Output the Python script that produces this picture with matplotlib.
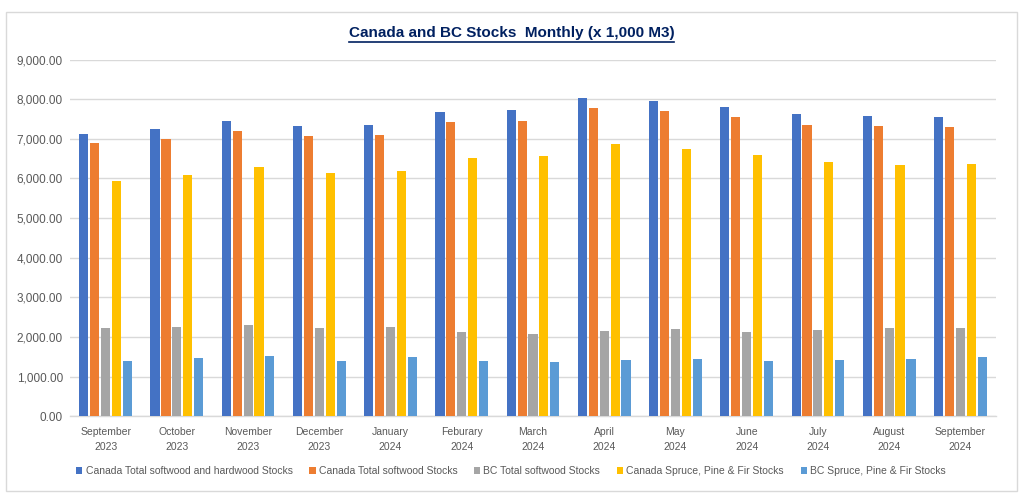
import matplotlib
matplotlib.use('Agg')
import matplotlib.pyplot as plt
from matplotlib.patches import Rectangle
from matplotlib.lines import Line2D
from matplotlib.ticker import FuncFormatter
import numpy as np

months = ['September\n2023', 'October\n2023', 'November\n2023', 'December\n2023',
          'January\n2024', 'Feburary\n2024', 'March\n2024', 'April\n2024',
          'May\n2024', 'June\n2024', 'July\n2024', 'August\n2024', 'September\n2024']

canada_total = [7126, 7252, 7454, 7328, 7353, 7682, 7714, 8035, 7942, 7798, 7621, 7581, 7555]
canada_softwood = [6888, 6989, 7202, 7065, 7090, 7411, 7454, 7783, 7697, 7538, 7353, 7328, 7293]
bc_softwood = [2224, 2249, 2315, 2224, 2264, 2138, 2087, 2155, 2206, 2138, 2173, 2239, 2224]
canada_spf = [5946, 6090, 6292, 6140, 6191, 6509, 6560, 6873, 6754, 6595, 6418, 6332, 6368]
bc_spf = [1405, 1473, 1524, 1405, 1491, 1405, 1372, 1423, 1455, 1390, 1423, 1455, 1491]

series_names = ['Canada Total softwood and hardwood Stocks', 'Canada Total softwood Stocks',
                'BC Total softwood Stocks', 'Canada Spruce, Pine & Fir Stocks',
                'BC Spruce, Pine & Fir Stocks']
colors = ['#4472C4', '#ED7D31', '#A5A5A5', '#FFC000', '#5B9BD5']

plt.rcParams['font.family'] = ['Liberation Sans', 'DejaVu Sans']
text_col = '#595959'

fig = plt.figure(figsize=(10.23, 5.03), dpi=100)
fig.patches.append(Rectangle((6 / 1023, 12 / 503), 1011 / 1023, 479 / 503, transform=fig.transFigure,
                             fill=False, edgecolor='#d9d9d9', linewidth=1.0))

ax = fig.add_axes([70 / 1023, 86.7 / 503, 926 / 1023, 356.8 / 503])

x = np.arange(len(months))
slot = 0.153
width = 0.128
all_series = [canada_total, canada_softwood, bc_softwood, canada_spf, bc_spf]
for i, (vals, name, c) in enumerate(zip(all_series, series_names, colors)):
    ax.bar(x + (i - 2) * slot, vals, width=width, color=c, label=name, zorder=3)

ax.set_ylim(0, 9000)
ax.set_xlim(-0.5, len(months) - 0.5)
ax.set_yticks(np.arange(0, 9001, 1000))
ax.yaxis.set_major_formatter(FuncFormatter(lambda v, p: f'{v:,.2f}'))
ax.set_xticks(x)
ax.set_xticklabels(months, linespacing=1.6)
ax.tick_params(axis='both', length=0, colors=text_col)
ax.tick_params(axis='y', pad=5, labelsize=8.5)
ax.tick_params(axis='x', pad=8, labelsize=7.5)
ax.grid(axis='y', color='#d9d9d9', linewidth=1, zorder=0)
for s in ['top', 'right', 'left']:
    ax.spines[s].set_visible(False)
ax.spines['bottom'].set_color('#d9d9d9')
ax.spines['bottom'].set_linewidth(1)

leg = ax.legend(loc='center', bbox_to_anchor=((511 - 70) / 926, -0.153), ncol=5, frameon=False,
                fontsize=7.5, handlelength=0.6, handleheight=0.6, handletextpad=0.3,
                columnspacing=1.6)
for t in leg.get_texts():
    t.set_color(text_col)

title = fig.text(0.5, 1 - 33 / 503, 'Canada and BC Stocks  Monthly (x 1,000 M3)', ha='center',
                 va='center', fontsize=11, fontweight='bold', color='#002060')
fig.canvas.draw()
bb = title.get_window_extent().transformed(fig.transFigure.inverted())
fig.lines.append(Line2D([bb.x0, bb.x1], [bb.y0 - 0.003, bb.y0 - 0.003], transform=fig.transFigure,
                        color='#002060', linewidth=1.2))

fig.savefig('out.png', dpi=100)
